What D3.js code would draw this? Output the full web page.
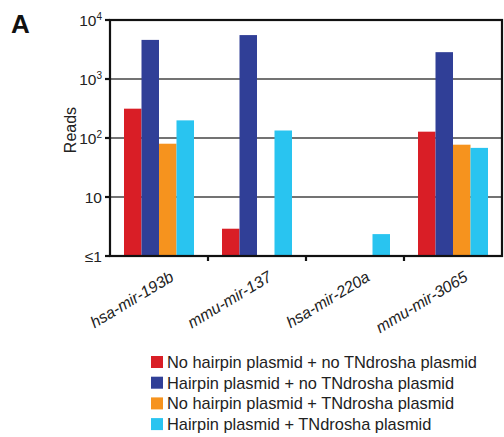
<!DOCTYPE html>
<html>
<head>
<meta charset="utf-8">
<script src="https://cdn.jsdelivr.net/npm/d3@7"></script>
<style>
  body { margin: 0; background: #fff; }
  svg text { font-family: "Liberation Sans", Arial, sans-serif; fill: #222; }
</style>
</head>
<body>
<div id="chart"></div>
<script>
// miRNA reads per condition (null = no reads)
var categories = ["hsa-mir-193b", "mmu-mir-137", "hsa-mir-220a", "mmu-mir-3065"];
var seriesNames = [
  "No hairpin plasmid + no TNdrosha plasmid",
  "Hairpin plasmid + no TNdrosha plasmid",
  "No hairpin plasmid + TNdrosha plasmid",
  "Hairpin plasmid + TNdrosha plasmid"
];
var noHairpinNoTN = [314, 2.9, null, 128];
var hairpinNoTN = [4600, 5550, null, 2850];
var noHairpinTN = [80, null, null, 77];
var hairpinTN = [199, 134, 2.35, 68];
var seriesColors = ["#d91e26", "#303f97", "#f6931e", "#29c4f0"];
var tickValues = [1, 10, 100, 1000, 10000];
var tickLabels = ["\u22641", "10", "10^2", "10^3", "10^4"];

var width = 504, height = 437;
var margin = { top: 20, right: 2, bottom: 181, left: 110 };

var svg = d3.select("#chart").append("svg")
  .attr("width", width)
  .attr("height", height);

var x0 = d3.scaleBand()
  .domain(categories)
  .range([margin.left, width - margin.right]);

var x1 = d3.scaleBand()
  .domain(d3.range(4))
  .range([0, x0.bandwidth()])
  .paddingOuter(0.8)
  .paddingInner(0);

var y = d3.scaleLog()
  .domain([1, 10000])
  .range([height - margin.bottom, margin.top]);

var series = [noHairpinNoTN, hairpinNoTN, noHairpinTN, hairpinTN];

// gridlines
svg.append("g")
  .selectAll("line")
  .data(tickValues.slice(1, 4))
  .enter().append("line")
  .attr("x1", margin.left)
  .attr("x2", width - margin.right)
  .attr("y1", function(d) { return y(d); })
  .attr("y2", function(d) { return y(d); })
  .attr("stroke", "#444")
  .attr("stroke-width", 1.5);

// bars
categories.forEach(function(cat, ci) {
  series.forEach(function(vals, si) {
    var v = vals[ci];
    if (v == null) return;
    svg.append("rect")
      .attr("x", x0(cat) + x1(si))
      .attr("y", y(v))
      .attr("width", x1.bandwidth())
      .attr("height", y(1) - y(v))
      .attr("fill", seriesColors[si]);
  });
});

// frame
svg.append("rect")
  .attr("x", margin.left)
  .attr("y", margin.top)
  .attr("width", width - margin.right - margin.left)
  .attr("height", height - margin.bottom - margin.top)
  .attr("fill", "none")
  .attr("stroke", "#111")
  .attr("stroke-width", 2.2);

// y axis ticks + labels
var yAxis = svg.append("g");
tickValues.forEach(function(t, i) {
  yAxis.append("line")
    .attr("x1", margin.left - 5).attr("x2", margin.left)
    .attr("y1", y(t)).attr("y2", y(t))
    .attr("stroke", "#111").attr("stroke-width", 2.2);
  var lab = tickLabels[i];
  var txt = yAxis.append("text")
    .attr("x", margin.left - 8)
    .attr("y", y(t) + 5.5)
    .attr("text-anchor", "end")
    .style("font-size", "15.5px");
  if (lab.indexOf("^") >= 0) {
    var parts = lab.split("^");
    txt.append("tspan").text(parts[0]);
    txt.append("tspan").attr("dy", -6).style("font-size", "10px").text(parts[1]);
  } else {
    txt.text(lab);
  }
});

svg.append("text")
  .attr("transform", "translate(76," + 130 + ")rotate(-90)")
  .attr("text-anchor", "middle")
  .style("font-size", "16px")
  .text("Reads");

// x axis ticks at category boundaries
var bounds = categories.map(function(c) { return x0(c); }).concat([width - margin.right]);
svg.append("g")
  .selectAll("line")
  .data(bounds.slice(1, 4))
  .enter().append("line")
  .attr("x1", function(d) { return d; })
  .attr("x2", function(d) { return d; })
  .attr("y1", y(1))
  .attr("y2", y(1) + 5)
  .attr("stroke", "#111")
  .attr("stroke-width", 2.2);

svg.append("g")
  .selectAll("text")
  .data(categories)
  .enter().append("text")
  .attr("transform", function(d) {
    return "translate(" + (x0(d) + x0.bandwidth() / 2 + 16) + "," + 280 + ")rotate(-31)";
  })
  .attr("text-anchor", "end")
  .style("font-size", "16px")
  .style("font-style", "italic")
  .text(function(d) { return d; });

// legend
var legend = svg.append("g")
  .selectAll("g")
  .data(seriesNames)
  .enter().append("g")
  .attr("transform", function(d, i) { return "translate(151," + (362 + i * 20.7) + ")"; });

legend.append("rect")
  .attr("x", 0).attr("y", -6)
  .attr("width", 12).attr("height", 12)
  .attr("fill", function(d, i) { return seriesColors[i]; });

legend.append("text")
  .attr("x", 16).attr("y", 6)
  .style("font-size", "16.4px")
  .text(function(d) { return d; });

// panel letter
svg.append("text")
  .attr("x", 11).attr("y", 33)
  .style("font-size", "26px")
  .style("font-weight", "bold")
  .style("fill", "#111")
  .text("A");
</script>
</body>
</html>
